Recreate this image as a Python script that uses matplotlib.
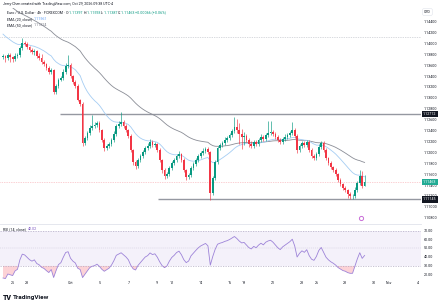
import matplotlib
matplotlib.use("Agg")
import matplotlib.pyplot as plt
import matplotlib.transforms as mtransforms
import numpy as np

# ---------------- data ----------------
first_open = 1.13760
closes = [
    1.13776, 1.13740, 1.13795, 1.13758, 1.13721, 1.13776, 1.13795, 1.13923, 1.14015, 1.13997,
    1.13942, 1.13886, 1.13850, 1.13868, 1.13776, 1.13740, 1.13666, 1.13630, 1.13556, 1.13483,
    1.13519, 1.13116, 1.13226, 1.13336, 1.13373, 1.13483, 1.13593, 1.13611, 1.13409, 1.13299,
    1.13226, 1.12969, 1.12896, 1.12180, 1.12272, 1.12363, 1.12455, 1.12492, 1.12510, 1.12547,
    1.12418, 1.12235, 1.12088, 1.12125, 1.12162, 1.12235, 1.12345, 1.12492, 1.12529, 1.12565,
    1.12492, 1.12418, 1.12308, 1.12051, 1.11831, 1.11758, 1.11868, 1.11941, 1.12015, 1.12088,
    1.12125, 1.12198, 1.12143, 1.12162, 1.12051, 1.11868, 1.11684, 1.11574, 1.11611, 1.11721,
    1.11813, 1.11868, 1.11941, 1.11978, 1.11868, 1.11684, 1.11556, 1.11593, 1.11721, 1.11795,
    1.11868, 1.11941, 1.11996, 1.12033, 1.12070, 1.12015, 1.11262, 1.11538, 1.11831, 1.12088,
    1.12143, 1.12180, 1.12235, 1.12272, 1.12327, 1.12400, 1.12474, 1.12418, 1.12345, 1.12290,
    1.12308, 1.12235, 1.12162, 1.12125, 1.12198, 1.12162, 1.12235, 1.12290, 1.12253, 1.12327,
    1.12363, 1.12382, 1.12345, 1.12290, 1.12235, 1.12198, 1.12253, 1.12290, 1.12327, 1.12363,
    1.12418, 1.12308, 1.12051, 1.12125, 1.12180, 1.12143, 1.12198, 1.12051, 1.11941, 1.11905,
    1.11978, 1.12107, 1.12180, 1.12051, 1.11905, 1.11813, 1.11740, 1.11684, 1.11611, 1.11501,
    1.11428, 1.11354, 1.11317, 1.11244, 1.11207, 1.11207, 1.11317, 1.11446, 1.11574, 1.11397,
    1.11463,
]
# wick lengths beyond the body, in pips (0.0001)
wick_up = [
    3, 2, 4, 3, 2, 5, 3, 4, 9, 3,
    3, 2, 4, 3, 2, 6, 8, 3, 2, 3,
    4, 2, 3, 4, 3, 5, 6, 18, 3, 2,
    3, 4, 2, 3, 4, 3, 5, 20, 6, 4,
    3, 2, 3, 4, 3, 3, 5, 4, 6, 18,
    4, 3, 2, 3, 2, 3, 4, 3, 4, 3,
    5, 6, 4, 3, 2, 3, 2, 3, 4, 3,
    3, 4, 3, 5, 2, 3, 2, 3, 4, 3,
    3, 4, 3, 5, 4, 3, 2, 3, 4, 3,
    4, 3, 5, 3, 4, 3, 19, 15, 12, 10,
    8, 4, 3, 5, 3, 4, 3, 6, 3, 4,
    22, 20, 4, 3, 3, 4, 3, 5, 4, 3,
    15, 4, 3, 4, 3, 3, 4, 3, 3, 4,
    3, 5, 4, 3, 3, 2, 3, 2, 3, 2,
    3, 2, 3, 2, 3, 4, 5, 4, 11, 9,
    13,
]
wick_dn = [
    4, 8, 3, 10, 6, 4, 3, 3, 4, 3,
    3, 4, 3, 5, 3, 4, 3, 3, 4, 3,
    3, 4, 3, 3, 2, 3, 4, 3, 3, 4,
    3, 2, 4, 6, 3, 4, 3, 3, 4, 3,
    3, 4, 5, 3, 4, 3, 3, 4, 3, 3,
    3, 4, 3, 4, 5, 6, 3, 4, 3, 3,
    3, 3, 4, 3, 3, 4, 5, 6, 3, 3,
    3, 3, 4, 3, 3, 4, 5, 3, 3, 4,
    3, 3, 3, 4, 3, 3, 13, 4, 3, 3,
    3, 4, 3, 3, 3, 4, 3, 6, 18, 22,
    15, 4, 5, 3, 4, 3, 3, 4, 3, 3,
    3, 4, 3, 3, 4, 3, 3, 3, 3, 4,
    3, 4, 5, 3, 4, 3, 3, 4, 3, 4,
    3, 3, 4, 3, 4, 3, 3, 4, 3, 4,
    3, 4, 3, 7, 6, 5, 3, 3, 3, 4,
    1,
]
warmup_closes = [1.1455, 1.1448, 1.1452, 1.1440, 1.1432, 1.1436, 1.1425, 1.1418,
                 1.1420, 1.1410, 1.1402, 1.1405, 1.1395, 1.1388, 1.1392, 1.1383, 1.1376]
ema20_seed = 1.14220
ema50_seed = 1.14860
resistance = 1.12712
support = 1.11145
top_dotted = 1.14116

price_ticks = [1.144, 1.142, 1.140, 1.138, 1.136, 1.134, 1.132, 1.130, 1.128, 1.126,
               1.124, 1.122, 1.120, 1.118, 1.116, 1.114, 1.112, 1.110, 1.108]
rsi_ticks = [70, 60, 50, 40, 30, 20]
day_labels = ["25", "28", "Oct", "5", "7", "9", "12", "14", "16", "19", "21", "23",
              "26", "28", "30", "Nov", "4"]
day_index = [0, 1, 4, 6, 8, 10, 11, 13, 15, 16, 18, 20, 21, 23, 25, 26, 28]
bars_per_day = 6
first_day_bar = 4

# ---------------- derived ----------------
c = np.array(closes)
o = np.array([first_open] + closes[:-1])
hi = np.maximum(o, c) + np.array(wick_up) * 1e-4
lo = np.minimum(o, c) - np.array(wick_dn) * 1e-4
idx = np.arange(len(c))


def ema(vals, n, seed):
    a = 2.0 / (n + 1)
    e = seed
    out = []
    for v in vals:
        e = e + a * (v - e)
        out.append(e)
    return np.array(out)


def rsi(vals, n=14):
    vals = np.asarray(vals)
    d = np.diff(vals)
    up = np.where(d > 0, d, 0.0)
    dn = np.where(d < 0, -d, 0.0)
    au = up[:n].mean()
    ad = dn[:n].mean()
    out = [np.nan] * (n + 1)
    for k in range(n, len(d)):
        au = (au * (n - 1) + up[k]) / n
        ad = (ad * (n - 1) + dn[k]) / n
        rs = au / ad if ad > 0 else np.inf
        out.append(100 - 100 / (1 + rs))
    return np.array(out)


e20 = ema(c, 20, ema20_seed)
e50 = ema(c, 50, ema50_seed)
r_all = rsi(list(warmup_closes) + closes)
r = r_all[-len(c):]

# ---------------- figure ----------------
W, H = 443, 306
plt.rcParams['font.family'] = ['Roboto', 'DejaVu Sans']
fig = plt.figure(figsize=(W / 100, H / 100), dpi=100)
fig.patch.set_facecolor('white')


def rect(x0, y0, x1, y1):
    return [x0 / W, 1 - y1 / H, (x1 - x0) / W, (y1 - y0) / H]


PX_L, PX_R = 0, 421
ax = fig.add_axes(rect(PX_L, 8, PX_R, 224))
axr = fig.add_axes(rect(PX_L, 224, PX_R, 279))
xmin, xmax = -1.25, 173.4
for a in (ax, axr):
    a.set_xlim(xmin, xmax)
    a.set_xticks([])
    a.set_yticks([])
    for s in a.spines.values():
        s.set_visible(False)
    a.set_facecolor('white')
ax.set_ylim(1.10694, 1.14657)
axr.set_ylim(15.1, 78.0)

UP, DN = '#089981', '#f23645'
cols = np.where(c >= o, UP, DN)

ax.axhline(top_dotted, color='#b2b5be', ls=(0, (1, 1.5)), lw=0.5, zorder=1)
ax.hlines(resistance, 23.6, xmax, color='#9598a1', lw=1.0, zorder=2)
ax.hlines(support, 64.3, xmax, color='#9598a1', lw=1.0, zorder=2)
ax.axhline(c[-1], color='#f7a1a8', ls=(0, (1, 1.5)), lw=0.5, zorder=1)

ax.plot(idx, e50, color='#8a8d96', lw=0.6, zorder=3)
ax.plot(idx, e20, color='#a5cdf3', lw=0.6, zorder=3)

ax.vlines(idx, lo, hi, colors=cols, lw=0.45, zorder=4)
ax.bar(idx, np.maximum(np.abs(c - o), 0.00003), bottom=np.minimum(o, c), width=0.72,
       color=cols, linewidth=0, zorder=5)

# event icon
ax.plot([148.5], [1.10812], marker='o', ms=3.0, mfc='white', mec='#c86dd7', mew=0.7,
        zorder=6, clip_on=False)

# right price scale labels
FS = 2.6
tr = mtransforms.blended_transform_factory(ax.transAxes, ax.transData)
for p in price_ticks:
    ax.text(1 + 2.5 / (PX_R - PX_L), p, f"{p:.5f}", transform=tr, fontsize=FS,
            color='#131722', va='center', ha='left', clip_on=False)


def tag(axis, y, txt, bg, fg='white'):
    t = mtransforms.blended_transform_factory(axis.transAxes, axis.transData)
    axis.text(1 + 2.0 / (PX_R - PX_L), y, txt, transform=t, fontsize=FS, color=fg,
              va='center', ha='left', clip_on=False, zorder=10,
              bbox=dict(boxstyle='square,pad=0.35', fc=bg, ec='none'))


tag(ax, resistance, f"{resistance:.5f}", '#131722')
tag(ax, support, f"{support:.5f}", '#131722')
tag(ax, c[-1], f"{c[-1]:.5f}", '#22ab94')
fig.text(424 / W, 1 - 12 / H, "USD", fontsize=FS, color='#131722', va='center', ha='left',
         bbox=dict(boxstyle='round,pad=0.4', fc='white', ec='#e0e3eb', lw=0.4))

# RSI pane
axr.axhspan(30, 70, color='#7e57c2', alpha=0.08, lw=0)
axr.axhline(70, color='#a9a2bd', ls=(0, (2, 2)), lw=0.45)
axr.axhline(30, color='#a9a2bd', ls=(0, (2, 2)), lw=0.45)
axr.axhline(50, color='#c9c3d8', ls=(0, (2, 2)), lw=0.35)
axr.fill_between(idx, r, 30, where=(r < 30), interpolate=True, color='#f23645',
                 alpha=0.22, lw=0)
axr.fill_between(idx, r, 70, where=(r > 70), interpolate=True, color='#089981',
                 alpha=0.22, lw=0)
axr.plot(idx, r, color='#9d83d8', lw=0.6)
trr = mtransforms.blended_transform_factory(axr.transAxes, axr.transData)
for v in rsi_ticks:
    axr.text(1 + 2.5 / (PX_R - PX_L), v, f"{v:.2f}", transform=trr, fontsize=FS,
             color='#131722', va='center', ha='left', clip_on=False)

# divider
fig.add_artist(plt.Line2D([0, PX_R / W], [1 - 224 / H, 1 - 224 / H], color='#e0e3eb', lw=0.6))

# time axis labels
trx = mtransforms.blended_transform_factory(axr.transData, axr.transAxes)
for lab, d in zip(day_labels, day_index):
    axr.text(first_day_bar + bars_per_day * d, -4.5 / 55, lab, transform=trx, fontsize=FS,
             color='#131722', va='center', ha='center', clip_on=False)

# ---------------- header text ----------------
renderer = fig.canvas.get_renderer()


def seq(x_px, y_px, parts, fs=FS):
    x = x_px
    for s, col in parts:
        t = fig.text(x / W, 1 - y_px / H, s, color=col, fontsize=fs, va='center', ha='left')
        x += t.get_window_extent(renderer=renderer).width


TXT = '#131722'
VAL = '#089981' if c[-1] >= o[-1] else '#f23645'
chg = c[-1] - o[-1]
seq(3, 4, [("Jerry-Chen created with TradingView.com, Oct 29, 2026 09:38 UTC-4", TXT)])
seq(7, 12.5, [("Euro / U.S. Dollar \u00b7 4h \u00b7 FOREXCOM \u00b7 ", TXT),
              ("O:", TXT), (f"{o[-1]:.5f} ", VAL), ("H:", TXT), (f"{hi[-1]:.5f} ", VAL),
              ("L:", TXT), (f"{lo[-1]:.5f} ", VAL), ("C:", TXT), (f"{c[-1]:.5f} ", VAL),
              (f"{chg:+.5f} ({chg / o[-1] * 100:+.2f}%)", VAL)])
seq(7, 19, [("EMA (20, close)  ", TXT), (f"{e20[-1]:.5f}", '#5b9cf6')])
seq(7, 25.5, [("EMA (50, close)  ", TXT), (f"{e50[-1]:.5f}", '#787b86')])
seq(3, 229.5, [("RSI (14, close)  ", TXT), (f"{r[-1]:.2f}", '#7e57c2')])

fig.text(3 / W, 1 - 298 / H, "TV", fontsize=5.0, fontweight='heavy', color='#131722',
         va='center', ha='left')
fig.text(13 / W, 1 - 298 / H, "TradingView", fontsize=4.6, fontweight='bold',
         color='#131722', va='center', ha='left')

fig.savefig("out.png", dpi=100, facecolor='white')
